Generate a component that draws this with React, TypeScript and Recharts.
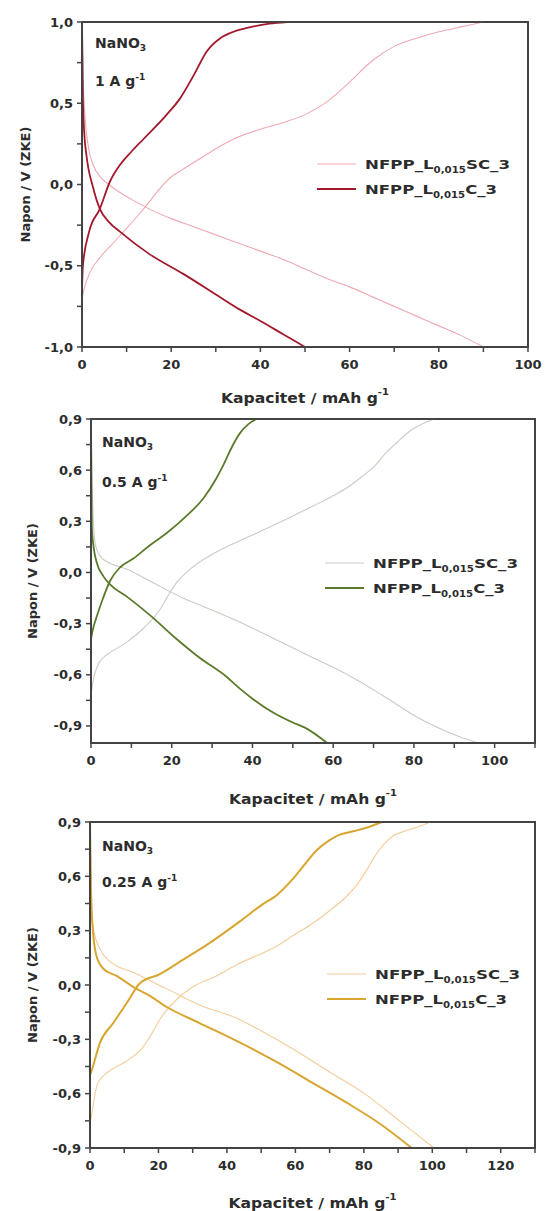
import { LineChart, Line, XAxis, YAxis, ReferenceArea } from 'recharts';

type Pt = [number, number];

/* ---------- panel 1: NaNO3, 1 A g-1 ---------- */
const p1ScCharge: Pt[] = [[0,-0.7],[0.5,-0.64],[2,-0.53],[4,-0.45],[7.7,-0.34],[10,-0.27],[12.9,-0.18],[15,-0.11],[16.7,-0.05],[19.7,0.04],[23,0.1],[26.5,0.16],[30,0.22],[34,0.28],[40,0.34],[45,0.38],[50,0.43],[55,0.51],[60,0.63],[65,0.76],[70,0.85],[75,0.9],[80,0.94],[85,0.97],[90,1.0]];
const p1ScDischarge: Pt[] = [[0,1.0],[0.2,0.7],[0.6,0.45],[1.5,0.22],[2.5,0.12],[4,0.05],[6,0.0],[8,-0.04],[11,-0.09],[15,-0.15],[20,-0.21],[25,-0.26],[30,-0.31],[35,-0.36],[40,-0.41],[45,-0.46],[50,-0.52],[55,-0.58],[60,-0.63],[65,-0.69],[70,-0.75],[75,-0.81],[80,-0.87],[85,-0.93],[90,-1.0]];
const p1CCharge: Pt[] = [[0,-0.65],[0.2,-0.5],[1.6,-0.29],[4,-0.15],[6.3,0.02],[8.5,0.12],[11,0.2],[13.8,0.28],[19,0.43],[22,0.53],[25,0.67],[28,0.82],[31,0.9],[34,0.94],[38,0.97],[42,0.99],[46,1.0]];
const p1CDischarge: Pt[] = [[0,1.0],[0.2,0.53],[0.5,0.32],[1,0.18],[2.5,-0.02],[4,-0.15],[6,-0.23],[8.5,-0.29],[15.2,-0.43],[22.7,-0.55],[30.2,-0.68],[35.4,-0.77],[40,-0.84],[45,-0.92],[50,-1.0]];

/* ---------- panel 2: NaNO3, 0.5 A g-1 ---------- */
const p2ScCharge: Pt[] = [[0,-0.72],[0.5,-0.64],[1.4,-0.56],[3,-0.5],[4.7,-0.47],[8.8,-0.41],[12.9,-0.33],[15,-0.28],[17,-0.22],[19,-0.14],[21.2,-0.06],[24.6,0.02],[29.5,0.1],[34.4,0.16],[40,0.22],[46.4,0.29],[55,0.39],[60,0.45],[63.6,0.5],[67,0.56],[70.5,0.63],[73,0.7],[75.7,0.76],[79,0.83],[82,0.87],[85,0.9]];
const p2ScDischarge: Pt[] = [[0,0.9],[0.3,0.5],[0.7,0.25],[1.2,0.15],[2.5,0.09],[4.2,0.06],[8.8,0.02],[14.6,-0.05],[22.8,-0.15],[31,-0.23],[36.8,-0.29],[46.4,-0.4],[55,-0.5],[63.6,-0.6],[72.2,-0.72],[80.9,-0.85],[86,-0.91],[91,-0.96],[96,-1.0]];
const p2CCharge: Pt[] = [[0,-0.39],[0.5,-0.33],[1.4,-0.26],[3,-0.15],[4.7,-0.05],[7.2,0.03],[10.4,0.08],[14.6,0.16],[18.7,0.23],[23.6,0.33],[28,0.44],[31,0.55],[33,0.64],[35,0.74],[37,0.82],[39,0.87],[41,0.9]];
const p2CDischarge: Pt[] = [[0,0.9],[0.1,0.5],[0.2,0.27],[0.7,0.14],[1.4,0.06],[3,-0.02],[4.7,-0.07],[8.8,-0.14],[14.6,-0.25],[21.2,-0.39],[26.9,-0.5],[33.5,-0.61],[36.8,-0.68],[40,-0.74],[45,-0.82],[50,-0.88],[53,-0.91],[58.5,-1.0]];

/* ---------- panel 3: NaNO3, 0.25 A g-1 ---------- */
const p3ScCharge: Pt[] = [[0,-0.78],[0.7,-0.69],[2.1,-0.55],[4,-0.5],[6,-0.47],[10.7,-0.42],[15.6,-0.34],[18,-0.27],[20.4,-0.19],[25.3,-0.08],[30.1,-0.01],[36.9,0.05],[43.7,0.12],[49.7,0.17],[55,0.22],[59.9,0.28],[65,0.34],[70,0.41],[75,0.49],[78.2,0.56],[81,0.64],[83.2,0.71],[86,0.78],[88.3,0.82],[92,0.85],[95.4,0.87],[99.5,0.9]];
const p3ScDischarge: Pt[] = [[0,0.9],[0.3,0.6],[0.9,0.32],[2.9,0.2],[5.8,0.13],[12.6,0.07],[22.3,-0.02],[32,-0.11],[43.7,-0.19],[49.7,-0.25],[59.9,-0.36],[70,-0.48],[80.2,-0.6],[90.4,-0.75],[100.5,-0.9]];
const p3CCharge: Pt[] = [[0,-0.5],[0.7,-0.46],[2.9,-0.32],[6.8,-0.21],[10.7,-0.1],[14.6,0.01],[20.4,0.06],[27.2,0.14],[34,0.22],[43.7,0.35],[50,0.44],[54.8,0.5],[59,0.58],[62.9,0.67],[66,0.74],[70,0.8],[73,0.83],[77.2,0.85],[81,0.87],[85.3,0.9]];
const p3CDischarge: Pt[] = [[0,0.9],[0.3,0.5],[0.9,0.29],[1.9,0.16],[3.9,0.09],[7.8,0.05],[12.6,-0.01],[17.5,-0.06],[22.3,-0.12],[32,-0.21],[44,-0.32],[55,-0.43],[65,-0.54],[75,-0.65],[85,-0.77],[94,-0.9]];

/* ---------- ticks & labels ---------- */
const X_TICKS_1 = [0, 10, 20, 30, 40, 50, 60, 70, 80, 90, 100];
const X_TICKS_2 = [0, 10, 20, 30, 40, 50, 60, 70, 80, 90, 100, 110];
const X_TICKS_3 = [0, 10, 20, 30, 40, 50, 60, 70, 80, 90, 100, 110, 120, 130];
const Y_TICKS_1 = [-1, -0.75, -0.5, -0.25, 0, 0.25, 0.5, 0.75, 1];
const Y_TICKS_23 = [-0.9, -0.75, -0.6, -0.45, -0.3, -0.15, 0, 0.15, 0.3, 0.45, 0.6, 0.75, 0.9];
const RATES = ['1', '0.5', '0.25'];
const SERIES_NAMES = ['SC_3', 'C_3'];

const FONT = '"DejaVu Sans", Arial, sans-serif';
const FRAME = '#444444';
const INK = '#2c2c2c';
const TICK_SIZE = 5;
const TICK_OFF = TICK_SIZE + 2; // tickSize + default tickMargin

const fmtY = (v: number) => v.toFixed(1).replace('.', ',');
const isMajor = (v: number, step: number) => Math.abs(v / step - Math.round(v / step)) < 1e-6;
const toRows = (pts: Pt[]) => pts.map(([x, y]) => ({ x, y }));

// top = page y of each chart box
const PANELS = [
  {
    top: 0, height: 400, mTop: 22, mRight: 17, yWidth: 82, plotH: 325,
    xMax: 100, yDomain: [-1, 1], xTicks: X_TICKS_1, yTicks: Y_TICKS_1, yStep: 0.5,
    rate: RATES[0], sc: [p1ScCharge, p1ScDischarge], c: [p1CCharge, p1CDischarge],
    scColor: '#efa9b1', cColor: '#a3192c', cWidth: 1.8,
    yTitleX: 25, xTitleDy: 51, noteX: 95, noteY: [43, 81], legX: 317, legY: 164,
  },
  {
    top: 400, height: 405, mTop: 19, mRight: 10, yWidth: 91, plotH: 324,
    xMax: 110, yDomain: [-1, 0.9], xTicks: X_TICKS_2, yTicks: Y_TICKS_23, yStep: 0.3,
    rate: RATES[1], sc: [p2ScCharge, p2ScDischarge], c: [p2CCharge, p2CDischarge],
    scColor: '#c9ccc3', cColor: '#5c7a2c', cWidth: 1.8,
    yTitleX: 32, xTitleDy: 56, noteX: 102, noteY: [42, 82], legX: 325, legY: 163,
  },
  {
    top: 805, height: 406, mTop: 17, mRight: 10, yWidth: 90, plotH: 326,
    xMax: 130, yDomain: [-0.9, 0.9], xTicks: X_TICKS_3, yTicks: Y_TICKS_23, yStep: 0.3,
    rate: RATES[2], sc: [p3ScCharge, p3ScDischarge], c: [p3CCharge, p3CDischarge],
    scColor: '#f4cc9a', cColor: '#d8a630', cWidth: 2,
    yTitleX: 32, xTitleDy: 55, noteX: 102, noteY: [41, 77], legX: 327, legY: 169,
  },
];

function XTick({ x, y, payload }: any) {
  if (!isMajor(payload.value, 20)) return <g />;
  const ay = y - TICK_OFF;
  return (
    <text x={x} y={ay + 22} textAnchor="middle" fontFamily={FONT} fontWeight="bold" fontSize={13} fill={INK}>
      {payload.value}
    </text>
  );
}

function YTick({ x, y, payload, step }: any) {
  if (!isMajor(payload.value, step)) return <g />;
  const ax = x + TICK_OFF;
  return (
    <text x={ax - 9} y={y + 4.5} textAnchor="end" fontFamily={FONT} fontWeight="bold" fontSize={13} fill={INK}>
      {fmtY(payload.value)}
    </text>
  );
}

function PanelChart({ p }: { p: typeof PANELS[number] }) {
  const lines = [
    { d: p.sc[0], color: p.scColor, w: 1.1 },
    { d: p.sc[1], color: p.scColor, w: 1.1 },
    { d: p.c[0], color: p.cColor, w: p.cWidth },
    { d: p.c[1], color: p.cColor, w: p.cWidth },
  ];
  return (
    <LineChart width={545} height={p.height} margin={{ top: p.mTop, right: p.mRight, left: 0, bottom: 0 }}>
      <XAxis
        xAxisId="b" type="number" dataKey="x" domain={[0, p.xMax]} ticks={p.xTicks} interval={0}
        height={p.height - p.mTop - p.plotH} stroke={FRAME} tickSize={TICK_SIZE}
        tickLine={{ stroke: FRAME, strokeWidth: 1.5 }} axisLine={{ stroke: FRAME, strokeWidth: 2 }}
        tick={(t: any) => <XTick {...t} />}
      />
      <YAxis
        yAxisId="l" type="number" domain={p.yDomain} ticks={p.yTicks} interval={0}
        width={p.yWidth} stroke={FRAME} tickSize={TICK_SIZE}
        tickLine={{ stroke: FRAME, strokeWidth: 1.5 }} axisLine={{ stroke: FRAME, strokeWidth: 2 }}
        tick={(t: any) => <YTick {...t} step={p.yStep} />}
      />
      {/* box frame around the plot */}
      <ReferenceArea xAxisId="b" yAxisId="l" x1={0} x2={p.xMax} y1={p.yDomain[0]} y2={p.yDomain[1]}
        fill="none" stroke={FRAME} strokeWidth={2} />
      {lines.map((l, i) => (
        <Line key={i} xAxisId="b" yAxisId="l" data={toRows(l.d)} dataKey="y" type="monotone"
          stroke={l.color} strokeWidth={l.w} dot={false} isAnimationActive={false} />
      ))}
    </LineChart>
  );
}

function PanelText({ p }: { p: typeof PANELS[number] }) {
  const plotW = 545 - p.yWidth - p.mRight;
  const plotTop = p.top + p.mTop;
  const cy = plotTop + p.plotH / 2;
  const txt = { fontFamily: FONT, fontWeight: 'bold', fill: INK } as const;
  const rows = [
    { color: p.scColor, w: 1.2, tail: SERIES_NAMES[0], len: 145 },
    { color: p.cColor, w: p.cWidth, tail: SERIES_NAMES[1], len: 132 },
  ];
  return (
    <g>
      {/* frame outline, same box as the chart's plot area */}
      <rect x={p.yWidth} y={plotTop} width={plotW} height={p.plotH} fill="none" stroke={FRAME} strokeWidth={1.8} />
      <text {...txt} x={p.yWidth + plotW / 2} y={plotTop + p.plotH + p.xTitleDy} textAnchor="middle"
        dominantBaseline="central" fontSize={14} textLength={168} lengthAdjust="spacingAndGlyphs">
        Kapacitet / mAh g<tspan fontSize={9} dy={-6}>-1</tspan>
      </text>
      <text {...txt} x={p.yTitleX} y={cy} transform={`rotate(-90, ${p.yTitleX}, ${cy})`} textAnchor="middle"
        dominantBaseline="central" fontSize={13}>
        Napon / V (ZKE)
      </text>
      <text {...txt} x={p.noteX} y={p.top + p.noteY[0] + 5} fontSize={14}>
        NaNO<tspan fontSize={9} dy={3}>3</tspan>
      </text>
      <text {...txt} x={p.noteX} y={p.top + p.noteY[1] + 5} fontSize={14}>
        {p.rate} A g<tspan fontSize={9} dy={-6}>-1</tspan>
      </text>
      {rows.map((r, i) => {
        const ly = p.top + p.legY + i * 25;
        return (
          <g key={i}>
            <line x1={p.legX} x2={p.legX + 39} y1={ly} y2={ly} stroke={r.color} strokeWidth={r.w} />
            <text {...txt} x={p.legX + 48} y={ly + 5} fontSize={13} textLength={r.len} lengthAdjust="spacingAndGlyphs">
              NFPP_L<tspan fontSize={8} dy={4}>0,015</tspan><tspan dy={-4}>{r.tail}</tspan>
            </text>
          </g>
        );
      })}
    </g>
  );
}

export default function App() {
  return (
    <div style={{ position: 'absolute', left: 0, top: 0, width: 545, height: 1211, background: '#fff' }}>
      {PANELS.map((p, i) => <PanelChart key={i} p={p} />)}
      <svg width={545} height={1211} style={{ position: 'absolute', left: 0, top: 0, pointerEvents: 'none' }}>
        {PANELS.map((p, i) => <PanelText key={i} p={p} />)}
      </svg>
    </div>
  );
}
